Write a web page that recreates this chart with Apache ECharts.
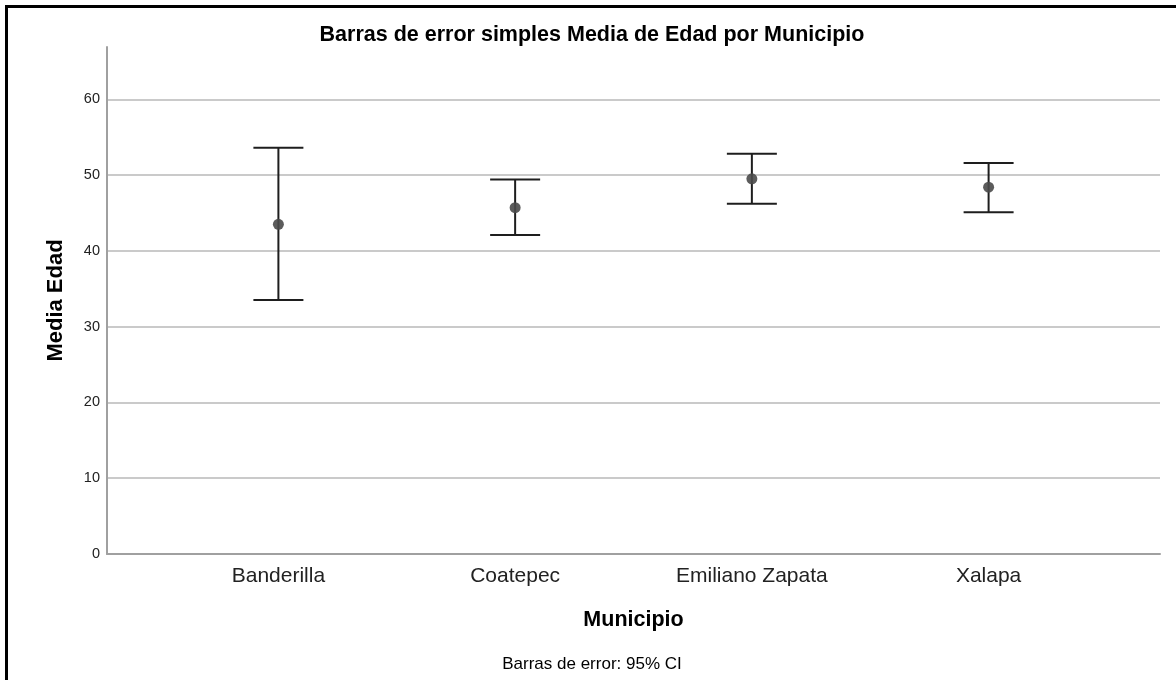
<!DOCTYPE html>
<html>
<head>
<meta charset="utf-8">
<script src="https://cdn.jsdelivr.net/npm/echarts@6/dist/echarts.min.js"></script>
<style>
  html, body { margin: 0; padding: 0; background: #fff; }
  #frame {
    position: absolute; left: 5px; top: 5px; width: 1171px; height: 675px;
    border-left: 3px solid #000; border-top: 3px solid #000; box-sizing: border-box;
  }
  #chart { width: 1168px; height: 672px; }
</style>
</head>
<body>
<div id="frame"><div id="chart"></div></div>
<script>
// Mean age per municipality with 95% confidence interval
const categories = ['Banderilla', 'Coatepec', 'Emiliano Zapata', 'Xalapa'];
const meanAge = [43.5, 45.7, 49.5, 48.4];
const ciLower = [33.5, 42.1, 46.2, 45.1];
const ciUpper = [53.6, 49.4, 52.8, 51.6];
const yTicks = [0, 10, 20, 30, 40, 50, 60];
const yMax = 66.9;

const FONT = '"Liberation Sans", Arial, sans-serif';

const barData = categories.map((c, i) => [i, ciLower[i], ciUpper[i]]);
const meanData = categories.map((c, i) => [i, meanAge[i]]);

function renderErrorBar(params, api) {
  const x = api.value(0);
  const lo = api.coord([x, api.value(1)]);
  const hi = api.coord([x, api.value(2)]);
  const cap = 25;
  const style = { stroke: '#1e1e1e', lineWidth: 2 };
  return {
    type: 'group',
    children: [
      { type: 'line', shape: { x1: lo[0], y1: lo[1], x2: hi[0], y2: hi[1] }, style },
      { type: 'line', shape: { x1: hi[0] - cap, y1: hi[1], x2: hi[0] + cap, y2: hi[1] }, style },
      { type: 'line', shape: { x1: lo[0] - cap, y1: lo[1], x2: lo[0] + cap, y2: lo[1] }, style }
    ]
  };
}

const chart = echarts.init(document.getElementById('chart'), null, { renderer: 'canvas' });
chart.setOption({
  animation: false,
  backgroundColor: '#fff',
  title: [
    {
      text: 'Barras de error simples Media de Edad por Municipio',
      left: 'center', top: 11,
      textStyle: { fontFamily: FONT, fontSize: 21.5, fontWeight: 'bold', color: '#000' }
    },
    {
      text: 'Barras de error: 95% CI',
      left: 'center', top: 643,
      textStyle: { fontFamily: FONT, fontSize: 17, fontWeight: 'normal', color: '#000' }
    }
  ],
  grid: { left: 99, top: 39, right: 16, bottom: 126, containLabel: false },
  xAxis: {
    type: 'value',
    min: -0.724, max: 3.724,
    name: 'Municipio',
    nameLocation: 'middle',
    nameGap: 55,
    nameTextStyle: { fontFamily: FONT, fontSize: 21.5, fontWeight: 'bold', color: '#000' },
    axisLine: { onZero: false, lineStyle: { color: '#a0a0a0', width: 2 } },
    axisTick: { show: false, customValues: [0, 1, 2, 3] },
    axisLabel: {
      customValues: [0, 1, 2, 3],
      formatter: v => categories[Math.round(v)] || '',
      fontFamily: FONT, fontSize: 21, color: '#222', margin: 12
    },
    splitLine: { show: false }
  },
  yAxis: {
    type: 'value',
    min: 0, max: yMax, interval: 10,
    name: 'Media Edad',
    nameLocation: 'middle',
    nameGap: 40,
    nameTextStyle: { fontFamily: FONT, fontSize: 22, fontWeight: 'bold', color: '#000' },
    axisLine: { show: true, onZero: false, lineStyle: { color: '#a0a0a0', width: 2 } },
    axisTick: { show: false, customValues: yTicks },
    axisLabel: { customValues: yTicks, fontFamily: FONT, fontSize: 14.5, color: '#222', margin: 7 },
    splitLine: { show: true, lineStyle: { color: '#cacaca', width: 2 } }
  },
  series: [
    {
      type: 'custom',
      renderItem: renderErrorBar,
      encode: { x: 0, y: [1, 2] },
      data: barData,
      z: 3
    },
    {
      type: 'scatter',
      data: meanData,
      symbol: 'circle',
      symbolSize: 11,
      itemStyle: { color: '#4a4a4a', opacity: 0.9 },
      z: 4
    }
  ]
});
</script>
</body>
</html>
